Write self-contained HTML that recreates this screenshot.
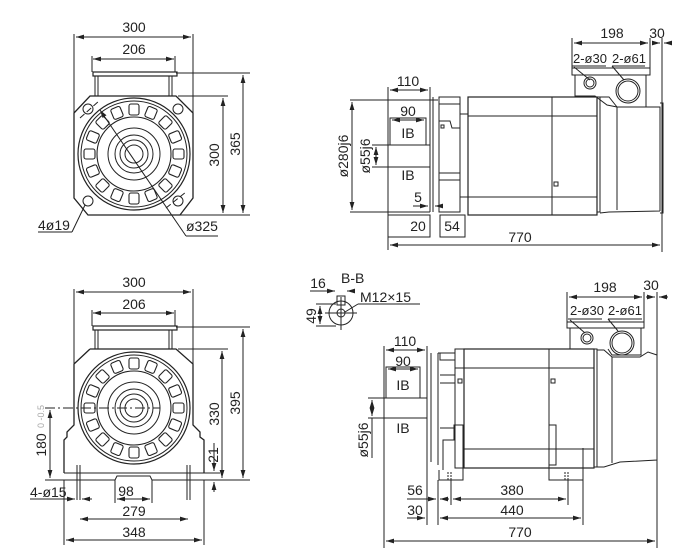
<!DOCTYPE html>
<html><head><meta charset="utf-8"><style>
html,body{margin:0;padding:0;background:#fff}
svg{display:block}
text{font-family:"Liberation Sans",sans-serif;font-size:14px;fill:#222}
.s{font-size:13px}
</style></head><body>
<svg width="678" height="558" viewBox="0 0 678 558" xmlns="http://www.w3.org/2000/svg">
<defs>
<marker id="a" viewBox="0 0 10 6" refX="10" refY="3" markerWidth="8" markerHeight="5" orient="auto-start-reverse"><path d="M0,0L10,3L0,6z" fill="#222"/></marker>
<g id="slots">
<g id="sl"><rect x="-5" y="-50" width="10" height="11" rx="2" fill="none" stroke="#222" stroke-width="1.1"/></g>
</g>
<g id="face">
<circle r="56" fill="none" stroke="#222" stroke-width="1.2"/>
<circle r="53" fill="none" stroke="#222" stroke-width="1"/>
<circle r="37" fill="none" stroke="#222" stroke-width="1.1"/>
<circle r="26" fill="none" stroke="#222" stroke-width="1"/>
<circle r="19" fill="none" stroke="#222" stroke-width="1"/>
<circle r="14" fill="none" stroke="#222" stroke-width="1"/>
<circle r="9" fill="none" stroke="#222" stroke-width="1"/>
<use href="#sl" transform="rotate(0)"/><use href="#sl" transform="rotate(22.5)"/><use href="#sl" transform="rotate(45)"/><use href="#sl" transform="rotate(67.5)"/><use href="#sl" transform="rotate(90)"/><use href="#sl" transform="rotate(112.5)"/><use href="#sl" transform="rotate(135)"/><use href="#sl" transform="rotate(157.5)"/><use href="#sl" transform="rotate(180)"/><use href="#sl" transform="rotate(202.5)"/><use href="#sl" transform="rotate(225)"/><use href="#sl" transform="rotate(247.5)"/><use href="#sl" transform="rotate(270)"/><use href="#sl" transform="rotate(292.5)"/><use href="#sl" transform="rotate(315)"/><use href="#sl" transform="rotate(337.5)"/>
</g>
</defs>
<g stroke="#222" fill="none" stroke-width="1">
<!-- ===== TOP LEFT ===== -->
<line x1="74" y1="34" x2="74" y2="113"/><line x1="193" y1="34" x2="193" y2="113"/>
<line x1="76" y1="37" x2="191" y2="37" marker-start="url(#a)" marker-end="url(#a)"/>
<line x1="92" y1="56" x2="92" y2="72"/><line x1="175" y1="56" x2="175" y2="72"/>
<line x1="93" y1="59" x2="174" y2="59" marker-start="url(#a)" marker-end="url(#a)"/>
<rect x="93" y="72" width="84" height="4" stroke-width="1.2"/>
<line x1="95" y1="76" x2="95" y2="96"/><line x1="98" y1="76" x2="98" y2="96"/>
<line x1="169" y1="76" x2="169" y2="96"/><line x1="172" y1="76" x2="172" y2="96"/>
<path d="M90,96 L176,96 L193,113 L193,198 L180,215 L88,215 L74,198 L74,113 Z" stroke-width="1.3"/>
<use href="#face" transform="translate(134,154)"/>
<circle cx="88" cy="109" r="5"/><circle cx="178" cy="109" r="5"/><circle cx="88" cy="201" r="5"/><circle cx="178" cy="201" r="5"/>
<line x1="176" y1="73" x2="250" y2="73"/><line x1="178" y1="96" x2="228" y2="96"/><line x1="180" y1="215" x2="250" y2="215"/>
<line x1="243" y1="75" x2="243" y2="213" marker-start="url(#a)" marker-end="url(#a)"/>
<line x1="223" y1="98" x2="223" y2="213" marker-start="url(#a)" marker-end="url(#a)"/>
<line x1="38" y1="232" x2="72" y2="232"/><line x1="72" y1="232" x2="85" y2="205"/>
<line x1="100" y1="110" x2="186" y2="236" marker-start="url(#a)"/><line x1="186" y1="236" x2="218" y2="236"/>
<line x1="80" y1="118" x2="100" y2="100" stroke-dasharray="6,3"/><line x1="166" y1="208" x2="186" y2="192" stroke-dasharray="6,3"/>

<!-- ===== TOP RIGHT ===== -->
<line x1="572" y1="38" x2="572" y2="70"/><line x1="650" y1="38" x2="650" y2="70"/><line x1="662" y1="38" x2="662" y2="252"/>
<line x1="574" y1="43" x2="648" y2="43" marker-start="url(#a)" marker-end="url(#a)"/>
<line x1="652" y1="43" x2="660" y2="43" marker-end="url(#a)"/><line x1="664" y1="43" x2="672" y2="43" marker-start="url(#a)"/>
<line x1="572" y1="66" x2="606" y2="66"/><line x1="612" y1="66" x2="645" y2="66"/>
<line x1="574" y1="67" x2="590" y2="80"/><line x1="612" y1="66" x2="624" y2="80"/>
<rect x="572" y="68" width="78" height="7"/>
<path d="M575,75 L575,96 L595,96 L607,105 L617,107 L646,107 L646,75"/>
<circle cx="590" cy="83" r="6"/><circle cx="590" cy="83" r="4"/>
<circle cx="628" cy="91" r="12"/><circle cx="628" cy="91" r="10"/>
<line x1="430" y1="97" x2="430" y2="212"/><line x1="433" y1="97" x2="433" y2="212"/>
<rect x="439" y="97" width="21" height="115"/>
<line x1="439" y1="104" x2="460" y2="104"/><line x1="439" y1="173" x2="460" y2="173"/><line x1="439" y1="180" x2="460" y2="180"/>
<path d="M439,121 L450,121 L452,128 L460,128"/><rect x="441" y="125" width="3" height="3"/>
<line x1="460" y1="114" x2="468" y2="114"/><line x1="460" y1="197" x2="468" y2="197"/>
<rect x="468" y="97" width="129" height="118" stroke-width="1.2"/>
<line x1="468" y1="116" x2="597" y2="116"/><line x1="468" y1="197" x2="597" y2="197"/>
<line x1="552" y1="97" x2="552" y2="215"/><rect x="554" y="182" width="4" height="4"/>
<rect x="597" y="97" width="3" height="115"/>
<path d="M600,97 L609,97 L617,107 L617,210 M600,213 L609,212 L660,211 M617,107 L660,107 L660,211"/>
<path d="M660,103 L663,103 L663,213 L660,213"/>
<line x1="350" y1="100" x2="438" y2="100"/><line x1="350" y1="212" x2="430" y2="212"/>
<line x1="352" y1="102" x2="352" y2="210" marker-start="url(#a)" marker-end="url(#a)"/>
<line x1="372" y1="145" x2="430" y2="145"/><line x1="372" y1="167" x2="430" y2="167"/>
<line x1="376" y1="147" x2="376" y2="165" marker-start="url(#a)" marker-end="url(#a)"/>
<line x1="388" y1="87" x2="388" y2="250"/><line x1="430" y1="87" x2="430" y2="97"/>
<line x1="390" y1="90" x2="428" y2="90" marker-start="url(#a)" marker-end="url(#a)"/>
<rect x="390" y="118" width="36" height="27"/>
<line x1="392" y1="120" x2="424" y2="120" marker-start="url(#a)" marker-end="url(#a)"/>
<line x1="413" y1="206" x2="428" y2="206" marker-end="url(#a)"/><line x1="435" y1="206" x2="440" y2="206" marker-start="url(#a)"/>
<rect x="388" y="215" width="42" height="22"/><rect x="440" y="215" width="25" height="22"/>
<line x1="430" y1="215" x2="430" y2="237"/>
<line x1="390" y1="245" x2="660" y2="245" marker-start="url(#a)" marker-end="url(#a)"/>

<!-- ===== BOTTOM LEFT ===== -->
<line x1="74" y1="289" x2="74" y2="365"/><line x1="193" y1="289" x2="193" y2="365"/>
<line x1="76" y1="292" x2="191" y2="292" marker-start="url(#a)" marker-end="url(#a)"/>
<line x1="92" y1="310" x2="92" y2="326"/><line x1="175" y1="310" x2="175" y2="326"/>
<line x1="93" y1="313" x2="174" y2="313" marker-start="url(#a)" marker-end="url(#a)"/>
<rect x="93" y="326" width="84" height="4" stroke-width="1.2"/>
<line x1="95" y1="330" x2="95" y2="349"/><line x1="98" y1="330" x2="98" y2="349"/>
<line x1="169" y1="330" x2="169" y2="349"/><line x1="172" y1="330" x2="172" y2="349"/>
<path d="M90,349 L176,349 L193,364 L193,425 L200,432 L200,437 L204,440 L204,473 M74,364 L90,349 M74,364 L74,425 L67,432 L67,437 L64,440 L64,473" stroke-width="1.3"/>
<use href="#face" transform="translate(134,408)"/>
<line x1="64" y1="473" x2="204" y2="473"/><line x1="64" y1="480" x2="115" y2="480"/><line x1="152" y1="480" x2="204" y2="480"/>
<path d="M115,480 L117,476 L150,476 L152,480"/>
<line x1="77" y1="465" x2="77" y2="500"/><line x1="80" y1="465" x2="80" y2="500"/>
<line x1="187" y1="465" x2="187" y2="500"/><line x1="190" y1="465" x2="190" y2="500"/>
<line x1="45" y1="408" x2="160" y2="408" stroke-dasharray="10,3,2,3"/>
<line x1="50" y1="410" x2="50" y2="478" marker-start="url(#a)" marker-end="url(#a)"/>
<line x1="45" y1="480" x2="64" y2="480"/>
<line x1="176" y1="327" x2="250" y2="327"/><line x1="178" y1="349" x2="228" y2="349"/><line x1="204" y1="480" x2="250" y2="480"/>
<line x1="204" y1="473" x2="220" y2="473"/>
<line x1="243" y1="329" x2="243" y2="478" marker-start="url(#a)" marker-end="url(#a)"/>
<line x1="222" y1="351" x2="222" y2="478" marker-start="url(#a)" marker-end="url(#a)"/>
<line x1="214" y1="443" x2="214" y2="471" marker-end="url(#a)"/><line x1="214" y1="482" x2="214" y2="492" marker-start="url(#a)"/>
<line x1="30" y1="499" x2="75" y2="499" marker-end="url(#a)"/><line x1="82" y1="499" x2="92" y2="499" marker-start="url(#a)"/>
<line x1="115" y1="480" x2="115" y2="503"/><line x1="152" y1="480" x2="152" y2="503"/>
<line x1="117" y1="499" x2="150" y2="499" marker-start="url(#a)" marker-end="url(#a)"/>
<line x1="80" y1="519" x2="188" y2="519" marker-start="url(#a)" marker-end="url(#a)"/>
<line x1="64" y1="480" x2="64" y2="545"/><line x1="204" y1="480" x2="204" y2="545"/>
<line x1="66" y1="540" x2="202" y2="540" marker-start="url(#a)" marker-end="url(#a)"/>

<!-- ===== BOTTOM RIGHT ===== -->
<circle cx="341" cy="313" r="12"/><circle cx="341" cy="313" r="4"/>
<line x1="325" y1="313" x2="357" y2="313"/><line x1="341" y1="297" x2="341" y2="330"/>
<rect x="337" y="296" width="8" height="9"/>
<line x1="310" y1="291" x2="335" y2="291" marker-end="url(#a)"/><line x1="347" y1="291" x2="352" y2="291" marker-start="url(#a)"/>
<line x1="345" y1="312" x2="358" y2="304"/><line x1="358" y1="304" x2="420" y2="304"/>
<line x1="316" y1="304" x2="336" y2="304"/><line x1="316" y1="326" x2="336" y2="326"/>
<line x1="320" y1="306" x2="320" y2="324" marker-start="url(#a)" marker-end="url(#a)"/>
<line x1="567" y1="292" x2="567" y2="323"/><line x1="644" y1="292" x2="644" y2="323"/><line x1="657" y1="292" x2="657" y2="548"/>
<line x1="569" y1="297" x2="642" y2="297" marker-start="url(#a)" marker-end="url(#a)"/>
<line x1="646" y1="297" x2="655" y2="297" marker-end="url(#a)"/><line x1="659" y1="297" x2="668" y2="297" marker-start="url(#a)"/>
<line x1="568" y1="319" x2="602" y2="319"/><line x1="608" y1="319" x2="642" y2="319"/>
<line x1="570" y1="320" x2="585" y2="333"/><line x1="608" y1="319" x2="618" y2="331"/>
<rect x="567" y="322" width="77" height="6"/>
<path d="M570,328 L570,349 M608,349 L612,355 L641,355 L641,328"/>
<circle cx="587" cy="338" r="6"/><circle cx="587" cy="338" r="4"/>
<circle cx="622" cy="343" r="12"/><circle cx="622" cy="343" r="10"/>
<line x1="427" y1="353" x2="427" y2="462"/><line x1="431" y1="353" x2="431" y2="462"/>
<path d="M438,353 L438,465 M438,353 L455,353"/>
<path d="M440,353 L440,360 L455,360 M440,375 L455,375 L455,383 L440,383 M440,428 L455,428"/>
<rect x="455" y="349" width="9" height="119"/>
<rect x="464" y="349" width="130" height="119" stroke-width="1.2"/>
<line x1="455" y1="368" x2="594" y2="368"/><line x1="464" y1="449" x2="594" y2="449"/>
<line x1="549" y1="349" x2="549" y2="468"/>
<rect x="458" y="379" width="4" height="4"/><rect x="551" y="379" width="4" height="4"/>
<path d="M439,470 L439,480 L463,480 L463,425 L454,425 L454,440 L443,440 L443,470"/>
<path d="M549,425 L556,425 L556,465 L549,465 M549,465 L549,480 L583,480 L583,448"/>
<line x1="448" y1="472" x2="448" y2="480" stroke-dasharray="2,1"/><line x1="451" y1="472" x2="451" y2="480" stroke-dasharray="2,1"/>
<line x1="565" y1="472" x2="565" y2="480" stroke-dasharray="2,1"/><line x1="568" y1="472" x2="568" y2="480" stroke-dasharray="2,1"/>
<rect x="594" y="349" width="3" height="118"/>
<path d="M597,350 L604,350 L612,357 L640,357 L648,352 L657,355 L657,460 L620,462 L604,467 L597,467"/>
<line x1="612" y1="357" x2="612" y2="463"/>
<line x1="384" y1="346" x2="384" y2="548"/><line x1="427" y1="346" x2="427" y2="353"/>
<line x1="386" y1="350" x2="425" y2="350" marker-start="url(#a)" marker-end="url(#a)"/>
<rect x="386" y="367" width="34" height="31"/>
<line x1="388" y1="369" x2="418" y2="369" marker-start="url(#a)" marker-end="url(#a)"/>
<line x1="368" y1="398" x2="427" y2="398"/><line x1="368" y1="418" x2="427" y2="418"/>
<line x1="372" y1="400" x2="372" y2="416" marker-start="url(#a)" marker-end="url(#a)"/>
<line x1="372" y1="418" x2="372" y2="458"/>
<line x1="427" y1="462" x2="427" y2="525"/><line x1="438" y1="480" x2="438" y2="525"/>
<line x1="451" y1="480" x2="451" y2="505"/><line x1="568" y1="480" x2="568" y2="505"/><line x1="583" y1="480" x2="583" y2="525"/>
<line x1="407" y1="499" x2="436" y2="499" marker-end="url(#a)"/><line x1="440" y1="499" x2="449" y2="499" marker-start="url(#a)"/>
<line x1="453" y1="499" x2="566" y2="499" marker-start="url(#a)" marker-end="url(#a)"/>
<line x1="407" y1="518" x2="425" y2="518" marker-end="url(#a)"/><line x1="440" y1="518" x2="581" y2="518" marker-start="url(#a)" marker-end="url(#a)"/>
<line x1="386" y1="541" x2="655" y2="541" marker-start="url(#a)" marker-end="url(#a)"/>
</g>

<!-- TEXT -->
<text x="134" y="32" text-anchor="middle">300</text>
<text x="134" y="54" text-anchor="middle">206</text>
<text transform="translate(240,144) rotate(-90)" text-anchor="middle">365</text>
<text transform="translate(219,155) rotate(-90)" text-anchor="middle">300</text>
<text x="38" y="230">4ø19</text>
<text x="186" y="231">ø325</text>

<text x="612" y="38" text-anchor="middle">198</text>
<text x="657" y="38" text-anchor="middle">30</text>
<text x="573" y="63" class="s">2-ø30</text>
<text x="612" y="63" class="s">2-ø61</text>
<text x="408" y="86" text-anchor="middle">110</text>
<text x="408" y="116" text-anchor="middle">90</text>
<text x="408" y="138" text-anchor="middle">IB</text>
<text x="408" y="180" text-anchor="middle">IB</text>
<text transform="translate(348,156) rotate(-90)" text-anchor="middle">ø280j6</text>
<text transform="translate(370,156) rotate(-90)" text-anchor="middle">ø55j6</text>
<text x="418" y="202" text-anchor="middle">5</text>
<text x="418" y="231" text-anchor="middle">20</text>
<text x="452" y="231" text-anchor="middle">54</text>
<text x="520" y="242" text-anchor="middle">770</text>

<text x="134" y="287" text-anchor="middle">300</text>
<text x="134" y="309" text-anchor="middle">206</text>
<text transform="translate(240,403) rotate(-90)" text-anchor="middle">395</text>
<text transform="translate(219,414) rotate(-90)" text-anchor="middle">330</text>
<text transform="translate(218,455) rotate(-90)" text-anchor="middle">21</text>
<text transform="translate(46,445) rotate(-90)" text-anchor="middle">180</text>
<text transform="translate(44,428) rotate(-90)" style="font-size:9px;fill:#aaa">0 -0.5</text>
<text x="30" y="497">4-ø15</text>
<text x="126" y="496" text-anchor="middle">98</text>
<text x="134" y="516" text-anchor="middle">279</text>
<text x="134" y="537" text-anchor="middle">348</text>

<text x="318" y="288" text-anchor="middle">16</text>
<text x="341" y="283">B-B</text>
<text x="360" y="302">M12×15</text>
<text transform="translate(316,316) rotate(-90)" text-anchor="middle">49</text>
<text x="605" y="292" text-anchor="middle">198</text>
<text x="651" y="290" text-anchor="middle">30</text>
<text x="570" y="315" class="s">2-ø30</text>
<text x="608" y="315" class="s">2-ø61</text>
<text x="405" y="346" text-anchor="middle">110</text>
<text x="403" y="366" text-anchor="middle">90</text>
<text x="403" y="390" text-anchor="middle">IB</text>
<text x="403" y="433" text-anchor="middle">IB</text>
<text transform="translate(368,440) rotate(-90)" text-anchor="middle">ø55j6</text>
<text x="415" y="495" text-anchor="middle">56</text>
<text x="512" y="495" text-anchor="middle">380</text>
<text x="415" y="515" text-anchor="middle">30</text>
<text x="512" y="515" text-anchor="middle">440</text>
<text x="520" y="537" text-anchor="middle">770</text>
</svg>
</body></html>
